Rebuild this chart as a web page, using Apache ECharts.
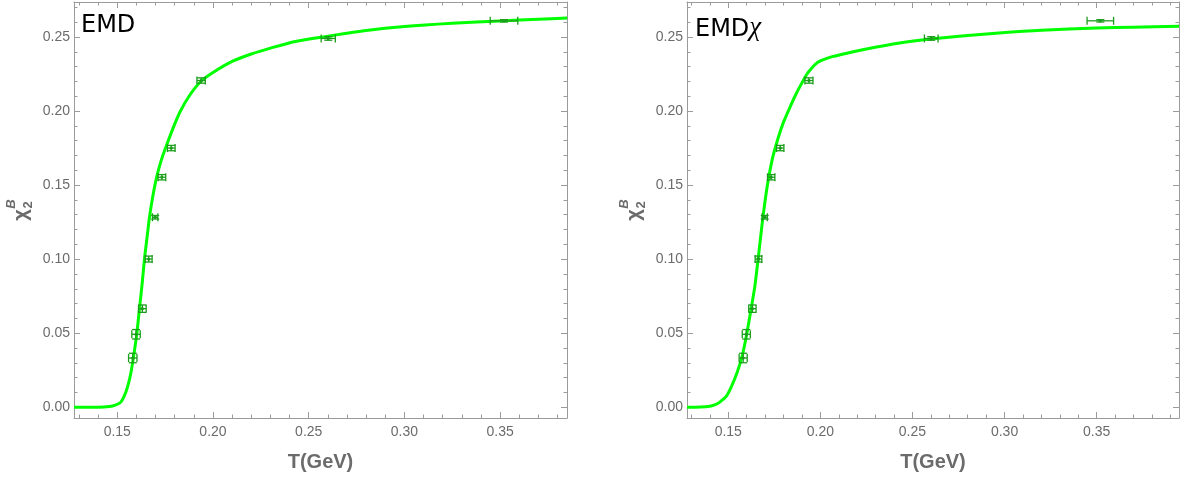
<!DOCTYPE html>
<html>
<head>
<meta charset="utf-8">
<script src="https://cdn.jsdelivr.net/npm/echarts@6/dist/echarts.min.js"></script>
<style>
  html, body { margin: 0; padding: 0; background: #fff; }
  #main { width: 1183px; height: 479px; }
</style>
</head>
<body>
<div id="main"></div>
<script>
// lattice points, same set drawn in both panels
var latT      = [0.1581, 0.1598, 0.1631, 0.1664, 0.1698, 0.1733, 0.1782, 0.1938, 0.2602, 0.3520];
var latChi    = [0.0333, 0.0493, 0.0666, 0.1001, 0.1283, 0.1553, 0.1750, 0.2206, 0.2490, 0.2609];
var latTErr   = [0.0022, 0.0022, 0.0020, 0.0018, 0.0014, 0.0020, 0.0020, 0.0022, 0.0037, 0.0072];
var latChiErr = [0.0032, 0.0032, 0.0025, 0.0020, 0.0012, 0.0018, 0.0018, 0.0018, 0.0012, 0.0008];

// EMD curve (left)
var emdT   = [0.1274, 0.1400, 0.1460, 0.1490, 0.1518, 0.1535, 0.1553, 0.1570, 0.1584, 0.1602,
              0.1616, 0.1630, 0.1642, 0.1655, 0.1668, 0.1685, 0.1705, 0.1728, 0.1752, 0.1790,
              0.1830, 0.1880, 0.1935, 0.2000, 0.2100, 0.2200, 0.2300, 0.2430, 0.2600, 0.2800,
              0.3000, 0.3250, 0.3500, 0.3700, 0.3850];
var emdChi = [0.0000, 0.0000, 0.0005, 0.0015, 0.0034, 0.0072, 0.0135, 0.0225, 0.0334, 0.0496,
              0.0667, 0.0835, 0.1000, 0.1140, 0.1280, 0.1419, 0.1550, 0.1660, 0.1750, 0.1880,
              0.2000, 0.2110, 0.2198, 0.2260, 0.2335, 0.2385, 0.2425, 0.2470, 0.2505, 0.2543,
              0.2570, 0.2592, 0.2608, 0.2620, 0.2628];

// EMD chi curve (right)
var emdxT   = [0.1276, 0.1350, 0.1400, 0.1430, 0.1454, 0.1490, 0.1517, 0.1548, 0.1572, 0.1595,
               0.1620, 0.1644, 0.1662, 0.1685, 0.1710, 0.1740, 0.1770, 0.1800, 0.1840, 0.1870,
               0.1900, 0.1925, 0.1950, 0.1975, 0.2000, 0.2035, 0.2070, 0.2150, 0.2250, 0.2430,
               0.2600, 0.2800, 0.2970, 0.3200, 0.3500, 0.3700, 0.3947];
var emdxChi = [0.0000, 0.0002, 0.0008, 0.0018, 0.0035, 0.0075, 0.0139, 0.0235, 0.0330, 0.0460,
               0.0635, 0.0815, 0.1000, 0.1250, 0.1480, 0.1680, 0.1815, 0.1925, 0.2040, 0.2120,
               0.2190, 0.2245, 0.2285, 0.2318, 0.2338, 0.2355, 0.2369, 0.2392, 0.2419, 0.2459,
               0.2486, 0.2510, 0.2527, 0.2545, 0.2560, 0.2566, 0.2572];

// ticks
var xMajor = [0.15, 0.20, 0.25, 0.30, 0.35];
var xMinor = [0.13, 0.14, 0.16, 0.17, 0.18, 0.19, 0.21, 0.22, 0.23, 0.24, 0.26, 0.27, 0.28, 0.29,
              0.31, 0.32, 0.33, 0.34, 0.36, 0.37, 0.38, 0.39];
var yMajor = [0.00, 0.05, 0.10, 0.15, 0.20, 0.25];
var yMinor = [0.01, 0.02, 0.03, 0.04, 0.06, 0.07, 0.08, 0.09, 0.11, 0.12, 0.13, 0.14,
              0.16, 0.17, 0.18, 0.19, 0.21, 0.22, 0.23, 0.24, 0.26, 0.27];

var frameColor = '#9b9b9b';
var labelColor = '#6b6b6b';
var fmt = function (v) { return v.toFixed(2); };

function xAx(g, xmin, xmax, pos, ticks, len, labels, line) {
  return {
    gridIndex: g, type: 'value', min: xmin, max: xmax, position: pos,
    axisLine: { show: line, onZero: false, lineStyle: { color: frameColor, width: 1 } },
    axisTick: { show: true, inside: true, length: len, customValues: ticks, lineStyle: { color: frameColor } },
    axisLabel: labels ? { show: true, customValues: ticks, formatter: fmt, margin: 7,
      color: labelColor, fontSize: 14, fontFamily: 'Liberation Sans' } : { show: false },
    splitLine: { show: false },
    name: labels ? 'T(GeV)' : '',
    nameLocation: 'middle', nameGap: 34,
    nameTextStyle: { color: labelColor, fontSize: 20, fontWeight: 'bold', fontFamily: 'Liberation Sans' }
  };
}
function yAx(g, pos, ticks, len, labels, line) {
  return {
    gridIndex: g, type: 'value', min: -0.0072, max: 0.2736, position: pos,
    axisLine: { show: line, onZero: false, lineStyle: { color: frameColor, width: 1 } },
    axisTick: { show: true, inside: true, length: len, customValues: ticks, lineStyle: { color: frameColor } },
    axisLabel: labels ? { show: true, customValues: ticks, formatter: fmt, margin: 4,
      color: labelColor, fontSize: 14, fontFamily: 'Liberation Sans' } : { show: false },
    splitLine: { show: false }
  };
}

function panelAxes(g, xmin, xmax) {
  return {
    x: [xAx(g, xmin, xmax, 'bottom', xMajor, 6, true, true),
        xAx(g, xmin, xmax, 'bottom', xMinor, 3.5, false, false),
        xAx(g, xmin, xmax, 'top', xMajor, 6, false, true),
        xAx(g, xmin, xmax, 'top', xMinor, 3.5, false, false)],
    y: [yAx(g, 'left', yMajor, 6, true, true),
        yAx(g, 'left', yMinor, 3.5, false, false),
        yAx(g, 'right', yMajor, 6, false, true),
        yAx(g, 'right', yMinor, 3.5, false, false)]
  };
}

var pA = panelAxes(0, 0.1274, 0.3849);
var pB = panelAxes(1, 0.1276, 0.3947);

function zip(a, b) { return a.map(function (v, i) { return [v, b[i]]; }); }
var latData = latT.map(function (t, i) { return [t, latChi[i], latTErr[i], latChiErr[i]]; });

function renderBars(params, api) {
  var t = api.value(0), c = api.value(1), et = api.value(2), ec = api.value(3);
  var m = api.coord([t, c]);
  var l = api.coord([t - et, c]), r = api.coord([t + et, c]);
  var b = api.coord([t, c - ec]), u = api.coord([t, c + ec]);
  var cap = 4;
  var st = { stroke: '#1c9e1c', lineWidth: 1.3 };
  function seg(x1, y1, x2, y2) {
    return { type: 'line', shape: { x1: x1, y1: y1, x2: x2, y2: y2 }, style: st };
  }
  return {
    type: 'group',
    children: [
      seg(l[0], m[1], r[0], m[1]),
      seg(l[0], m[1] - cap, l[0], m[1] + cap),
      seg(r[0], m[1] - cap, r[0], m[1] + cap),
      seg(m[0], b[1], m[0], u[1]),
      seg(m[0] - cap, b[1], m[0] + cap, b[1]),
      seg(m[0] - cap, u[1], m[0] + cap, u[1]),
      { type: 'circle', shape: { cx: m[0], cy: m[1], r: 1.6 }, style: { fill: '#1c9e1c' } }
    ]
  };
}

function chiLabel(cx) {
  return {
    type: 'group', x: cx, y: 215, rotation: Math.PI / 2,
    children: [
      { type: 'text', x: 0, y: -6, style: { text: 'χ', fill: labelColor, align: 'center', verticalAlign: 'middle',
        font: 'bold 20px "Liberation Sans"' } },
      { type: 'text', x: 11, y: -16, style: { text: 'B', fill: labelColor, align: 'center', verticalAlign: 'middle',
        font: 'italic bold 13px "Liberation Sans"' } },
      { type: 'text', x: 10, y: 1, style: { text: '2', fill: labelColor, align: 'center', verticalAlign: 'middle',
        font: 'bold 13px "Liberation Sans"' } }
    ]
  };
}

var chart = echarts.init(document.getElementById('main'));
chart.setOption({
  backgroundColor: '#fff',
  animation: false,
  grid: [
    { left: 74, top: 2, width: 493, height: 416 },
    { left: 687, top: 2, width: 492, height: 416 }
  ],
  xAxis: pA.x.concat(pB.x),
  yAxis: pA.y.concat(pB.y),
  graphic: [
    { type: 'text', left: 81, top: 14, style: { text: 'EMD', fill: '#000', font: '24px "DejaVu Sans"' } },
    { type: 'text', left: 695, top: 14, style: {
      text: '{a|EMD}{c|χ}', fill: '#000',
      rich: { a: { font: '24px "DejaVu Sans"', fill: '#000', verticalAlign: 'middle' },
              c: { font: 'italic 27px "Liberation Serif"', fill: '#000', verticalAlign: 'middle', padding: [0, 0, 4, 0] } } } },
    chiLabel(27),
    chiLabel(640)
  ],
  series: [
    { type: 'line', xAxisIndex: 0, yAxisIndex: 0, data: zip(emdT, emdChi), smooth: 0.25,
      showSymbol: false, lineStyle: { color: '#00ff00', width: 3 }, z: 2 },
    { type: 'custom', xAxisIndex: 0, yAxisIndex: 0, data: latData, renderItem: renderBars, z: 3 },
    { type: 'line', xAxisIndex: 4, yAxisIndex: 4, data: zip(emdxT, emdxChi), smooth: 0.25,
      showSymbol: false, lineStyle: { color: '#00ff00', width: 3 }, z: 2 },
    { type: 'custom', xAxisIndex: 4, yAxisIndex: 4, data: latData, renderItem: renderBars, z: 3 }
  ]
});
</script>
</body>
</html>
